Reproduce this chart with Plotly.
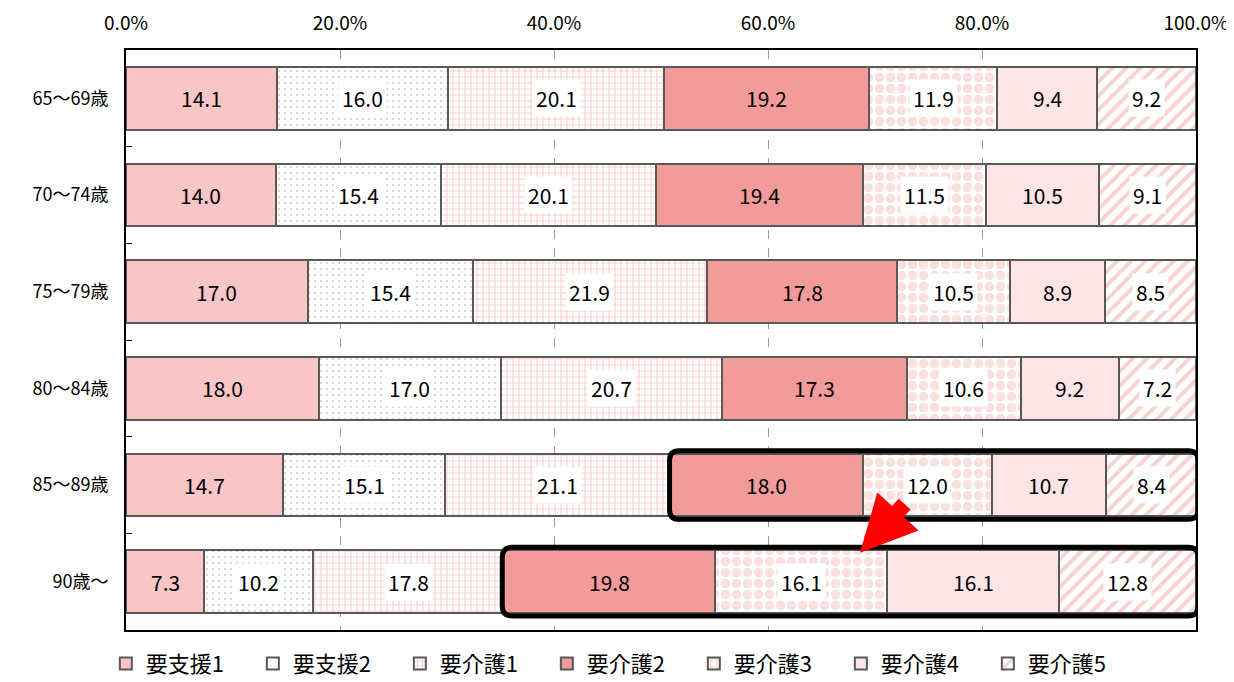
import numpy as np
import plotly.graph_objects as go

categories = ["65～69歳", "70～74歳", "75～79歳", "80～84歳", "85～89歳", "90歳～"]
series_names = ["要支援1", "要支援2", "要介護1", "要介護2", "要介護3", "要介護4", "要介護5"]
yoshien1 = [14.1, 14.0, 17.0, 18.0, 14.7, 7.3]
yoshien2 = [16.0, 15.4, 15.4, 17.0, 15.1, 10.2]
yokaigo1 = [20.1, 20.1, 21.9, 20.7, 21.1, 17.8]
yokaigo2 = [19.2, 19.4, 17.8, 17.3, 18.0, 19.8]
yokaigo3 = [11.9, 11.5, 10.5, 10.6, 12.0, 16.1]
yokaigo4 = [9.4, 10.5, 8.9, 9.2, 10.7, 16.1]
yokaigo5 = [9.2, 9.1, 8.5, 7.2, 8.4, 12.8]
tick_vals = [0, 20, 40, 60, 80, 100]
tick_text = ["0.0%", "20.0%", "40.0%", "60.0%", "80.0%", "100.0%"]

series = [yoshien1, yoshien2, yokaigo1, yokaigo2, yokaigo3, yokaigo4, yokaigo5]

FONT = "Noto Sans CJK JP"
EDGE = "#595959"

styles = [
    dict(color="#F9C5C7"),
    dict(color="#FFFFFF", pattern=dict(shape=".", fgcolor="#C9A3A3", size=6, solidity=0.12, fillmode="overlay")),
    dict(color="#FFFFFF", pattern=dict(shape="+", fgcolor="#F0A3A3", size=6, solidity=0.35, fillmode="overlay")),
    dict(color="#F29B9B"),
    dict(color="#FFFFFF", pattern=dict(shape=".", fgcolor="#F8C2C2", size=11, solidity=0.6, fillmode="overlay")),
    dict(color="#FDE5E7"),
    dict(color="#FFFFFF", pattern=dict(shape="/", fgcolor="#EFA6A6", size=10, solidity=0.4, fillmode="overlay")),
]
boxed = [False, True, True, False, True, False, True]

fig = go.Figure()
for name, vals, st in zip(series_names, series, styles):
    fig.add_trace(go.Bar(
        y=categories, x=vals, name=name, orientation="h",
        marker=dict(line=dict(color=EDGE, width=2), **st),
        width=0.65, hoverinfo="skip",
    ))

# label positions from normalised cumulative shares
arr = np.array(series, dtype=float)  # (series, categories)
shares = arr / arr.sum(axis=0) * 100
cum = np.cumsum(shares, axis=0)
centers = cum - shares / 2

annotations = []
for s in range(arr.shape[0]):
    for c in range(arr.shape[1]):
        annotations.append(dict(
            x=centers[s, c], y=c, xref="x", yref="y",
            text=f"{arr[s, c]:.1f}", showarrow=False,
            font=dict(family=FONT, size=21, color="#000000"),
            bgcolor="#FFFFFF" if boxed[s] else "rgba(0,0,0,0)",
            borderpad=3,
        ))

# red arrow
annotations.append(dict(
    x=68.6, y=4.70, xref="x", yref="y", ax=46, ay=-50,
    showarrow=True, arrowhead=2, arrowsize=0.7, arrowwidth=16,
    arrowcolor="#FF0000", text="",
))

def rounded_rect(x0, x1, y0, y1, rx=0.9, ry=0.1):
    return (f"M {x0+rx},{y0} L {x1-rx},{y0} Q {x1},{y0} {x1},{y0+ry} "
            f"L {x1},{y1-ry} Q {x1},{y1} {x1-rx},{y1} L {x0+rx},{y1} "
            f"Q {x0},{y1} {x0},{y1-ry} L {x0},{y0+ry} Q {x0},{y0} {x0+rx},{y0} Z")

shapes = []
for c in (4, 5):
    start = cum[2, c]
    shapes.append(dict(
        type="path", xref="x", yref="y",
        path=rounded_rect(start - 0.1, 100.2, c - 0.355, c + 0.355),
        line=dict(color="#000000", width=5), fillcolor="rgba(0,0,0,0)", layer="above",
    ))

fig.update_layout(
    barmode="stack", barnorm="percent",
    width=1234, height=682,
    margin=dict(l=118, r=46, t=42, b=60, autoexpand=False),
    paper_bgcolor="#FFFFFF", plot_bgcolor="#FFFFFF",
    font=dict(family=FONT, color="#000000"),
    showlegend=True,
    legend=dict(
        orientation="h", xref="paper", x=0.462, xanchor="center",
        yref="paper", y=-0.022, yanchor="top",
        font=dict(family=FONT, size=22, color="#000000"),
        traceorder="normal", itemwidth=30, entrywidth=102,
    ),
    annotations=annotations, shapes=shapes,
    bargap=0.35,
)
fig.update_xaxes(
    side="top", range=[0, 100], tickvals=tick_vals, ticktext=tick_text,
    showgrid=True, gridcolor="#9A9A9A", griddash="dash", gridwidth=1,
    showline=True, linecolor="#000000", linewidth=2, mirror=True,
    ticks="", tickfont=dict(family=FONT, size=19, color="#000000"),
    ticklabelstandoff=10,
    zeroline=False, fixedrange=True, automargin=False,
)
fig.update_yaxes(
    autorange="reversed", categoryorder="array", categoryarray=categories,
    showline=True, linecolor="#000000", linewidth=2, mirror=True,
    ticks="inside", tickson="boundaries", ticklen=6, tickcolor="#000000",
    tickfont=dict(family=FONT, size=18, color="#000000"),
    ticklabelstandoff=12,
    showgrid=False, fixedrange=True, automargin=False,
)

fig.write_html("out.html")
